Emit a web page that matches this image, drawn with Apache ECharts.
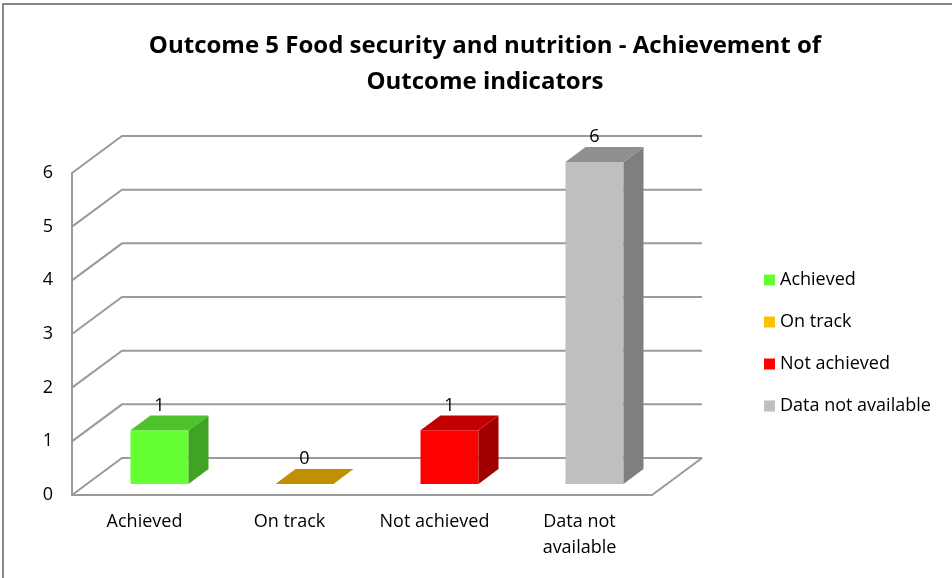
<!DOCTYPE html>
<html>
<head>
<meta charset="utf-8">
<script src="https://cdn.jsdelivr.net/npm/echarts@6/dist/echarts.min.js"></script>
<style>
  html, body { margin: 0; padding: 0; background: #fff; }
  #main { width: 952px; height: 578px; }
</style>
</head>
<body>
<div id="main"></div>
<script>
// 数据
var categories = ["Achieved", "On track", "Not achieved", "Data not\navailable"];
var legendNames = ["Achieved", "On track", "Not achieved", "Data not available"];
var values = [1, 0, 1, 6];
var yTicks = [0, 1, 2, 3, 4, 5, 6];

// 每根柱子的三面颜色: 正面 / 顶面 / 侧面
var frontColors = ["#66ff33", "#ffc000", "#ff0000", "#bfbfbf"];
var topColors = ["#4fc12a", "#c09000", "#c00000", "#8f8f8f"];
var sideColors = ["#3fa323", "#a07800", "#a00000", "#7f7f7f"];

// 3D 深度偏移
var DX = 50, DY = -37;
var F0 = 0.30, F1 = 0.70; // 柱子在深度方向的前后位置
var GRID = "#9a9a9a";
var FONT = "Open Sans";

var chart = echarts.init(document.getElementById("main"));

// 背景墙和地板
function renderWall(params, api) {
  var cs = params.coordSys;
  var v = api.value(0);
  var y = api.coord([0, v])[1];
  var x0 = cs.x, x1 = cs.x + cs.width;
  var children = [{
    type: "polyline",
    shape: { points: [[x0, y], [x0 + DX, y + DY], [x1 + DX, y + DY]] },
    style: { stroke: GRID, lineWidth: 2, fill: null }
  }];
  if (v === 0) {
    children.push({
      type: "polyline",
      shape: { points: [[x0, y], [x1, y], [x1 + DX, y + DY]] },
      style: { stroke: GRID, lineWidth: 2, fill: null }
    });
  }
  return { type: "group", children: children };
}

// 3D 柱子
function renderBar(params, api) {
  var idx = api.value(0);
  var val = api.value(1);
  var top = api.coord([idx, val]);
  var base = api.coord([idx, 0]);
  var w = api.size([1, 0])[0] * 0.4;
  var sx = DX * F0, sy = DY * F0;
  var dx = DX * (F1 - F0), dy = DY * (F1 - F0);
  var l = top[0] - w / 2 + sx, r = top[0] + w / 2 + sx;
  var t = top[1] + sy, b = base[1] + sy;
  var children = [];
  if (b - t > 0.5) {
    children.push({
      type: "rect",
      shape: { x: l, y: t, width: w, height: b - t },
      style: { fill: frontColors[idx] }
    });
    children.push({
      type: "polygon",
      shape: { points: [[r, t], [r + dx, t + dy], [r + dx, b + dy], [r, b]] },
      style: { fill: sideColors[idx] }
    });
  }
  children.push({
    type: "polygon",
    shape: { points: [[l, t], [r, t], [r + dx, t + dy], [l + dx, t + dy]] },
    style: { fill: topColors[idx] }
  });
  children.push({
    type: "text",
    style: {
      text: String(val), x: (l + r) / 2, y: t + dy - 10,
      align: "center", verticalAlign: "middle",
      font: "18px '" + FONT + "'", fill: "#000"
    }
  });
  return { type: "group", children: children };
}

var series = [{
  type: "custom",
  name: "wall",
  data: yTicks,
  renderItem: renderWall,
  silent: true,
  z: 1
}];
values.forEach(function (v, i) {
  series.push({
    type: "custom",
    name: legendNames[i],
    data: [[i, v]],
    itemStyle: { color: frontColors[i] },
    renderItem: renderBar,
    silent: true,
    z: 2
  });
});

var option = {
  animation: false,
  title: {
    text: "Outcome 5 Food security and nutrition - Achievement of\nOutcome indicators",
    left: 485,
    top: 28,
    padding: 0,
    textAlign: "center",
    textStyle: {
      fontFamily: FONT,
      fontWeight: "bold",
      fontSize: 24,
      lineHeight: 36,
      color: "#000"
    }
  },
  legend: {
    orient: "vertical",
    left: 764,
    top: 270,
    padding: 0,
    icon: "rect",
    itemWidth: 11,
    itemHeight: 11,
    itemGap: 22,
    data: legendNames,
    textStyle: { fontFamily: FONT, fontSize: 18, color: "#000", lineHeight: 20 }
  },
  grid: { left: 72, right: 300, top: 173, bottom: 83 },
  xAxis: {
    type: "category",
    data: categories,
    axisLine: { show: false },
    axisTick: { show: false },
    axisLabel: {
      margin: 14,
      fontFamily: FONT,
      fontSize: 18,
      lineHeight: 26,
      color: "#000"
    }
  },
  yAxis: {
    type: "value",
    min: 0,
    max: 6,
    interval: 1,
    axisLine: { show: true, lineStyle: { color: GRID, width: 2 } },
    axisTick: { show: false },
    splitLine: { show: false },
    axisLabel: { margin: 19, fontFamily: FONT, fontSize: 18, color: "#000" }
  },
  graphic: [{
    type: "rect",
    shape: { x: 3, y: 4, width: 1000, height: 1000 },
    style: { fill: null, stroke: "#868686", lineWidth: 2 },
    silent: true
  }],
  series: series
};

chart.setOption(option);
</script>
</body>
</html>
